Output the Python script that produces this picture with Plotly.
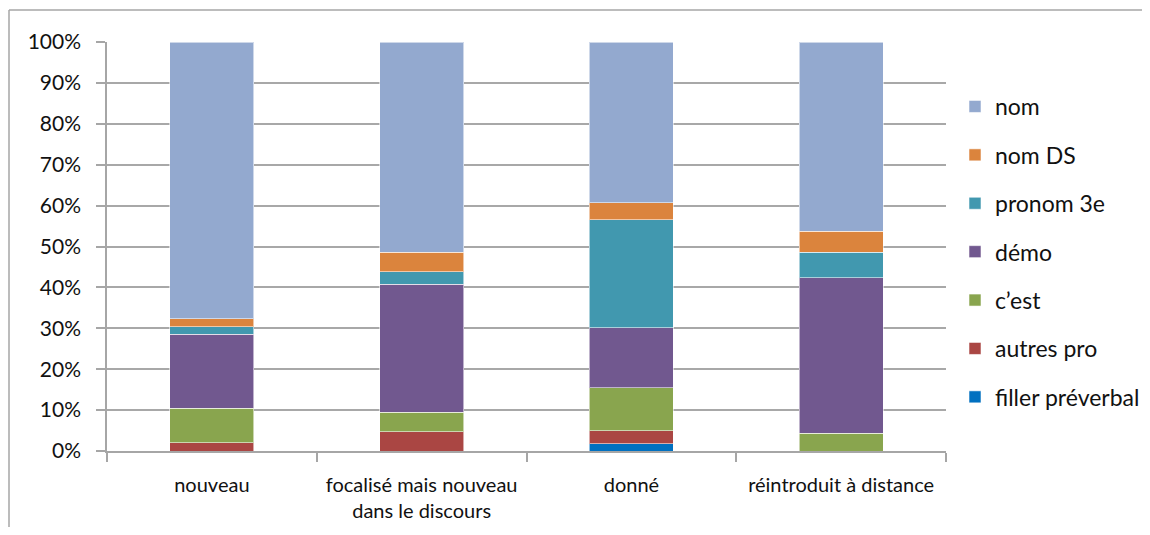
import plotly.graph_objects as go

categories = ["nouveau", "focalisé mais nouveau<br>dans le discours", "donné", "réintroduit à distance"]

filler_preverbal = [0.0, 0.0, 1.8, 0.0]
autres_pro = [2.0, 4.7, 3.2, 0.0]
c_est = [8.4, 4.8, 10.5, 4.3]
demo = [18.1, 31.3, 14.6, 38.1]
pronom_3e = [1.9, 3.0, 26.5, 6.2]
nom_ds = [1.9, 4.8, 4.1, 5.1]
nom = [67.7, 51.4, 39.3, 46.3]

series = [
    ("filler préverbal", filler_preverbal, "#0070C0"),
    ("autres pro", autres_pro, "#AA4643"),
    ("c\u2019est", c_est, "#89A54E"),
    ("démo", demo, "#71588F"),
    ("pronom 3e", pronom_3e, "#4198AF"),
    ("nom DS", nom_ds, "#DB843D"),
    ("nom", nom, "#93A9CF"),
]

y_ticks = [0, 10, 20, 30, 40, 50, 60, 70, 80, 90, 100]

FONT = "Lato"

fig = go.Figure()
n = len(series)
for i, (name, vals, col) in enumerate(series):
    fig.add_trace(go.Bar(
        x=categories, y=vals, name=name, legendgroup=name,
        legendrank=n - i,
        marker=dict(color=col, line=dict(color="rgba(255,255,255,0.55)", width=1)),
    ))

# page body has an 8px margin: figure px = screen px - 8
OFF = 8
W, H = 1134, 519
L, R, T, B = 107 - OFF, W - (946 - OFF), 42 - OFF, H - (451 - OFF)
pw, ph = W - L - R, H - T - B

def px_x(x):
    return (x - OFF - L) / pw

def px_y(y):
    return (H - B - (y - OFF)) / ph

border = dict(color="#A6A6A6", width=1.5)

fig.update_layout(
    width=W, height=H,
    barmode="stack", bargap=0.6,
    margin=dict(l=L, r=R, t=T, b=B, pad=0, autoexpand=False),
    paper_bgcolor="white", plot_bgcolor="white",
    font=dict(family=FONT, color="#111111"),
    showlegend=True,
    legend=dict(
        traceorder="grouped",
        tracegroupgap=15.5,
        font=dict(family=FONT, size=23, color="#111111"),
        x=px_x(955), xanchor="left",
        y=px_y(85), yanchor="top",
        bgcolor="rgba(0,0,0,0)",
    ),
    xaxis=dict(
        automargin=False,
        tickson="boundaries", ticks="outside", ticklen=9, tickcolor="#A6A6A6", tickwidth=1.5,
        showline=True, linecolor="#A6A6A6", linewidth=1.5,
        showgrid=False,
        tickfont=dict(family=FONT, size=20, color="#111111"),
        ticklabelstandoff=15,
    ),
    yaxis=dict(
        automargin=False,
        range=[0, 100], tickvals=y_ticks, ticktext=[f"{v}%" for v in y_ticks],
        ticks="outside", ticklen=9, tickcolor="#A6A6A6", tickwidth=1.5,
        showline=True, linecolor="#A6A6A6", linewidth=1.5,
        showgrid=True, gridcolor="#A8A8A8", gridwidth=1.6,
        zeroline=False,
        tickfont=dict(family=FONT, size=21, color="#111111"),
        ticklabelstandoff=11,
    ),
    shapes=[
        dict(type="line", xref="paper", yref="paper",
             x0=px_x(9), x1=px_x(1160), y0=px_y(10), y1=px_y(10), line=border, layer="below"),
        dict(type="line", xref="paper", yref="paper",
             x0=px_x(9), x1=px_x(9), y0=px_y(10), y1=px_y(560), line=border, layer="below"),
    ],
)

fig.write_html("out.html")
